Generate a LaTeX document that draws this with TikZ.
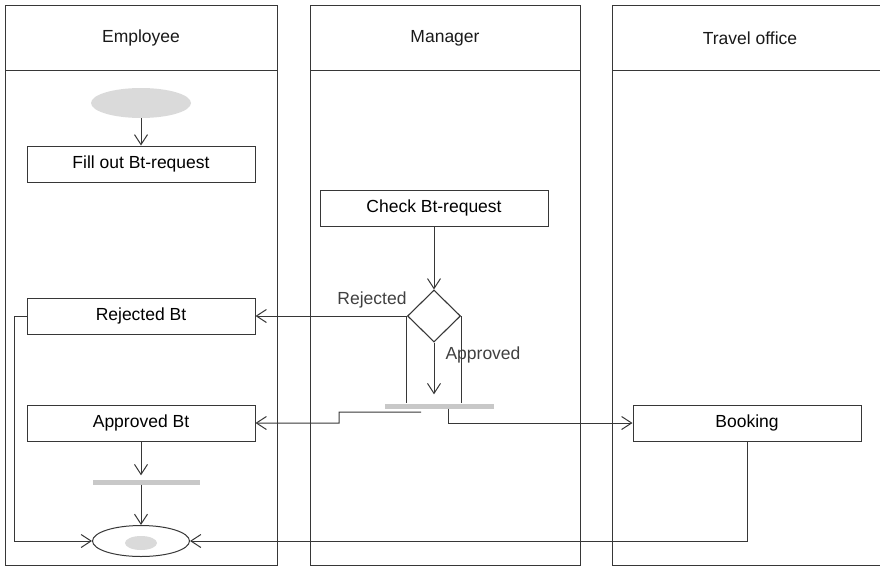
\documentclass[tikz,border=0pt]{standalone}
\usepackage{fontspec}
\setmainfont{Liberation Sans}
\usetikzlibrary{shapes.geometric, arrows.meta, positioning, calc}
\definecolor{myline}{RGB}{55,55,55}
\definecolor{mybar}{RGB}{200,200,200}
\definecolor{myfill}{RGB}{218,218,218}
\tikzset{
  lane/.style={draw=myline, line width=1pt},
  header/.style={font=\fontsize{17.5}{20}\selectfont, text=black!90},
  block/.style={rectangle, draw=myline, fill=white,
    minimum width=228pt, minimum height=36pt, inner sep=0pt,
    font=\fontsize{17.5}{20}\selectfont, line width=1pt},
  decision/.style={diamond, draw=myline, fill=white, inner sep=0pt,
    minimum width=53pt, minimum height=52pt, line width=1.1pt},
  startnode/.style={ellipse, fill=myfill, minimum width=100pt,
    minimum height=30pt, inner sep=0pt},
  endnode/.style={ellipse, draw=myline, fill=white, minimum width=97pt,
    minimum height=31pt, inner sep=0pt, line width=1pt},
  enddot/.style={ellipse, fill=myfill, minimum width=32pt,
    minimum height=14pt, inner sep=0pt},
  bar/.style={rectangle, fill=mybar, minimum height=5pt, inner sep=0pt},
  lbl/.style={font=\fontsize{17.5}{20}\selectfont, text=black!75},
  arrow/.style={-{Straight Barb[length=10pt, width=13pt]}, line width=1pt, color=myline},
  line/.style={line width=1pt, color=myline}
}

\begin{document}
\begin{tikzpicture}[x=1pt, y=-1pt]
  \useasboundingbox (0,0) rectangle (880,568);
  \clip (0,0) rectangle (880,568);

  % Swimlanes
  \draw[lane] (5,5) rectangle (277,565);
  \draw[lane] (5,70) -- (277,70);
  \draw[lane] (310,5) rectangle (580,565);
  \draw[lane] (310,70) -- (580,70);
  \draw[lane] (612,5) rectangle (890,565);
  \draw[lane] (612,70) -- (890,70);
  \node[header] (emp) at (141,38) {Employee};
  \node[header] (mgr) at (445,38) {Manager};
  \node[header] (travel) at (750,38) {Travel office};

  % Activities
  \node[startnode] (start) at (141,103) {};
  \node[block] (fill) at (141,164) {Fill out Bt-request};
  \node[block] (check) at (434,208) {Check Bt-request};
  \node[decision] (dec) at (434,316) {};
  \node[block] (rej) at (141,316) {Rejected Bt};
  \node[block] (appr) at (141,423) {Approved Bt};
  \node[block] (book) at (747,423) {Booking};
  \node[bar, minimum width=109pt] (fork) at (439,406) {};
  \node[bar, minimum width=107pt] (join) at (146,482) {};
  \node[endnode] (end) at (141,541) {};
  \node[enddot] (enddot) at (141,543) {};

  % Guard labels
  \node[lbl] (rejlbl) at (372,300) {Rejected};
  \node[lbl] (apprlbl) at (483,355) {Approved};

  % Flows
  \draw[arrow] (start) -- (fill);
  \draw[arrow] (check) -- (dec);
  \draw[arrow] (dec.west) -- (rej.east);
  \draw[line] (dec.west) -- (dec.west |- fork.north);
  \draw[line] (dec.east) -- (dec.east |- fork.north);
  \draw[arrow, shorten >=9pt] (dec.south) -- (dec.south |- fork.north);

  \coordinate (lstep) at (339,412);
  \draw[arrow] ([xshift=-18pt, yshift=-3.5pt]fork.south) -- (lstep) |- (appr.east);
  \draw[arrow] ([xshift=9pt]fork.south) |- (book.west);

  \draw[arrow, shorten >=4pt] (appr.south) -- (appr.south |- join.north);
  \draw[arrow] (end.north |- join.south) -- (end.north);
  \draw[arrow] (rej.west) -- ++(-12,0) |- (end.west);
  \draw[arrow] (book.south) |- (end.east);
\end{tikzpicture}
\end{document}
